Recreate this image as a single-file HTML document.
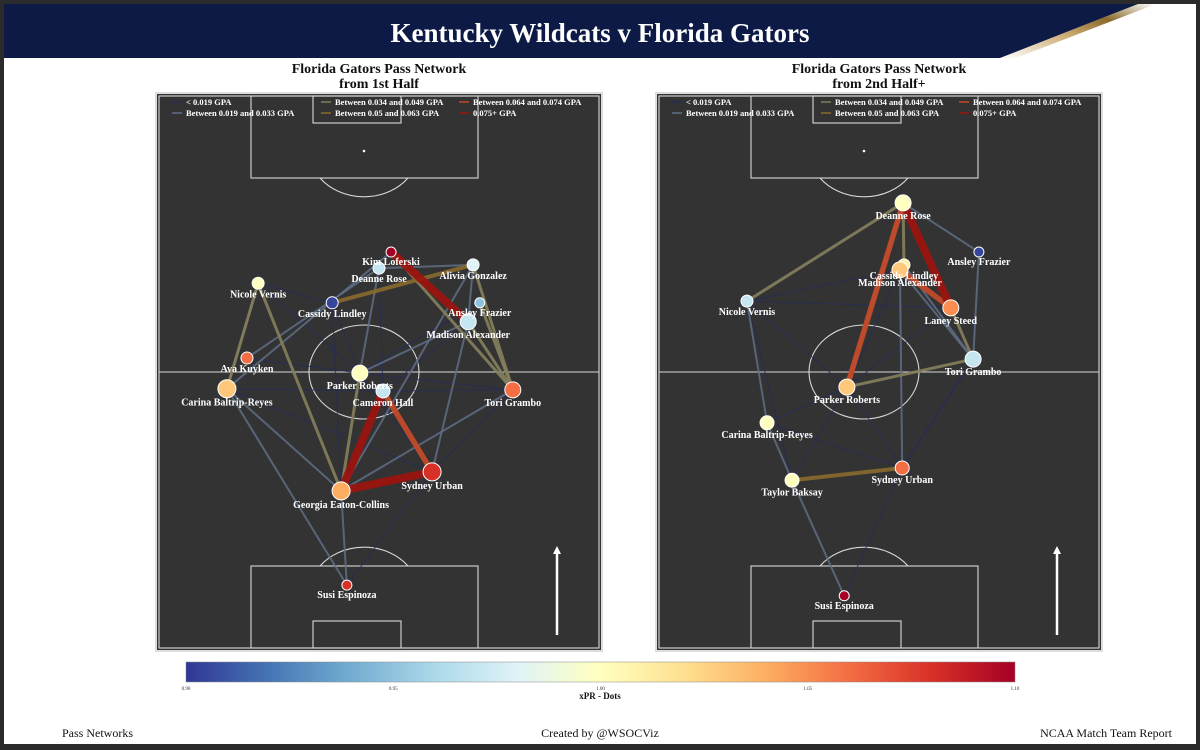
<!DOCTYPE html>
<html><head><meta charset="utf-8">
<style>
html,body{margin:0;padding:0;background:#2b2b2b;}
#page{position:relative;width:1200px;height:750px;overflow:hidden;background:#2b2b2b;font-family:"Liberation Serif",serif;}
#sheet{position:absolute;left:4px;top:4px;width:1192px;height:740px;background:#fff;}
text{font-family:"Liberation Serif",serif;}
</style></head>
<body>
<div id="page">
<div id="sheet"></div>
<svg id="svg" width="1200" height="750" style="position:absolute;left:0;top:0">
<defs>
<linearGradient id="cbar" x1="0" x2="1" y1="0" y2="0">
<stop offset="0" stop-color="#313695"/><stop offset="0.1" stop-color="#4575b4"/><stop offset="0.2" stop-color="#74add1"/><stop offset="0.3" stop-color="#abd9e9"/><stop offset="0.4" stop-color="#e0f3f8"/><stop offset="0.5" stop-color="#ffffbf"/><stop offset="0.6" stop-color="#fee090"/><stop offset="0.7" stop-color="#fdae61"/><stop offset="0.8" stop-color="#f46d43"/><stop offset="0.9" stop-color="#d73027"/><stop offset="1" stop-color="#a50026"/>
</linearGradient>
<linearGradient id="swoosh" x1="0" x2="1" y1="1" y2="0">
<stop offset="0" stop-color="#ffffff"/><stop offset="0.45" stop-color="#c9a66b"/><stop offset="0.7" stop-color="#8a6a2a"/><stop offset="1" stop-color="#ffffff"/>
</linearGradient>
</defs>
<polygon points="1000,58 1138,4 1196,4 1196,58" fill="#fff"/>
<polygon points="1000,58 1138,4 1156,4 1016,58" fill="url(#swoosh)"/>
<polygon points="4,4 1138,4 1000,58 4,58" fill="#0c1a45"/>
<text x="600" y="42" text-anchor="middle" fill="#fff" font-size="27" font-weight="bold">Kentucky Wildcats v Florida Gators</text>
<g id="pitches"></g>
<rect x="186" y="662" width="829" height="20" fill="url(#cbar)" stroke="#888" stroke-width="0.5"/>
<g id="cticks"></g>
<text x="600" y="699" text-anchor="middle" font-size="9" font-weight="bold" fill="#111">xPR - Dots</text>
<text x="62" y="737" font-size="12" fill="#111">Pass Networks</text>
<text x="600" y="737" text-anchor="middle" font-size="12" fill="#111">Created by @WSOCViz</text>
<text x="1172" y="737" text-anchor="end" font-size="12" fill="#111">NCAA Match Team Report</text>
</svg>
</div>
<script>
// colorbar ticks
const cbTicks = [0.90, 0.95, 1.00, 1.05, 1.10];
// GPA categories
const catLabels = ["< 0.019 GPA","Between 0.019 and 0.033 GPA","Between 0.034 and 0.049 GPA","Between 0.05 and 0.063 GPA","Between 0.064 and 0.074 GPA","0.075+ GPA"];
// left pitch (1st half) data: positions in % of pitch width / height from top
const p1Names = ["Kim Loferski","Deanne Rose","Alivia Gonzalez","Nicole Vernis","Cassidy Lindley","Ansley Frazier","Madison Alexander","Ava Kuyken","Carina Baltrip-Reyes","Parker Roberts","Cameron Hall","Tori Grambo","Sydney Urban","Georgia Eaton-Collins","Susi Espinoza"];
const p1X = [52.7,50.0,71.1,22.9,39.5,72.6,70.0,20.4,15.9,45.7,50.9,80.0,61.9,41.5,42.8];
const p1Y = [28.5,31.4,30.8,34.1,37.6,37.6,41.0,47.5,53.0,50.2,53.4,53.2,67.9,71.3,88.2];
const p1XPR = [1.10,0.97,0.98,1.00,0.905,0.95,0.97,1.06,1.03,1.00,0.97,1.06,1.08,1.04,1.08];
const p1Size = [5,6,6,6,6,5,8,6,9,8,7,8,9,9,5];
const p1Edges = [[13,10,5],[13,12,5],[10,12,4],[0,6,5],[4,2,3],[13,9,2],[13,3,2],[3,8,2],[2,11,2],[5,11,2],[0,11,2],[6,11,2],
 [7,1,1],[8,0,1],[8,13,1],[9,6,1],[6,12,1],[13,2,1],[11,13,1],[13,14,1],[8,14,1],[9,1,1],[3,8,1],[2,6,1],[1,2,1],
 [9,12,0],[4,9,0],[3,9,0],[8,10,0],[7,9,0],[10,11,0],[9,11,0],[12,11,0],[4,13,0],[1,10,0],[12,14,0],[8,12,0],[3,4,0],[6,10,0],[5,9,0]];
// right pitch (2nd half+) data
const p2Names = ["Deanne Rose","Ansley Frazier","Cassidy Lindley","Madison Alexander","Nicole Vernis","Laney Steed","Tori Grambo","Parker Roberts","Carina Baltrip-Reyes","Sydney Urban","Taylor Baksay","Susi Espinoza"];
const p2X = [55.4,72.4,55.6,54.7,20.4,66.1,71.1,42.8,24.9,55.2,30.5,42.2];
const p2Y = [19.7,28.5,30.8,31.7,37.3,38.5,47.7,52.7,59.1,67.2,69.4,90.1];
const p2XPR = [1.00,0.905,1.01,1.03,0.97,1.05,0.97,1.03,1.00,1.06,1.00,1.10];
const p2Size = [8,5,6,8,6,8,8,8,7,7,7,5];
const p2Edges = [[7,0,4],[0,5,5],[7,0,2],[3,5,4],[0,4,2],[0,2,2],[5,6,2],[7,6,2],[10,9,3],
 [0,1,1],[8,10,1],[4,8,1],[10,11,1],[3,9,1],[3,6,1],[2,6,1],[1,6,1],
 [4,3,0],[4,5,0],[4,7,0],[7,9,0],[8,7,0],[10,7,0],[9,11,0],[9,6,0],[8,9,0],[7,3,0],[4,10,0],[6,9,0],[5,7,0]];

const catColor = ["#252c5a","#5f6e86","#857f5c","#8a6a2e","#c24a2a","#9b1510"];
const catWidth = [1.2,2,3,4,5.5,8];
const catOpacity = [0.7,0.85,0.9,0.9,0.95,0.95];
const stops = ["#313695","#4575b4","#74add1","#abd9e9","#e0f3f8","#ffffbf","#fee090","#fdae61","#f46d43","#d73027","#a50026"];
function hex(h){return [1,3,5].map(i=>parseInt(h.substr(i,2),16));}
function cmap(v){let t=(v-0.9)/0.2;t=Math.max(0,Math.min(1,t));const f=t*10;const i=Math.min(9,Math.floor(f));const a=hex(stops[i]),b=hex(stops[i+1]);const u=f-i;return "rgb("+a.map((c,k)=>Math.round(c+(b[k]-c)*u)).join(",")+")";}
const NS="http://www.w3.org/2000/svg";
function mk(tag,attrs,parent){const e=document.createElementNS(NS,tag);for(const k in attrs)e.setAttribute(k,attrs[k]);parent.appendChild(e);return e;}

const cbX=v=>186+(v-0.9)/0.2*829;
const ct=document.getElementById('cticks');
cbTicks.forEach(v=>{const t=mk('text',{x:cbX(v),y:690,'text-anchor':'middle','font-size':5,fill:'#333'},ct);t.textContent=v.toFixed(2);

});

function drawPitch(x0,title2,names,xs,ys,xpr,sz,edges,id){
 const W=446,H=558,y0=93;
 const sx=p=>x0+p/100*W, sy=p=>y0+p/100*H;
 const g=mk('g',{},document.getElementById('pitches'));
 
 
 const tx=x0+W/2;
 const cx=x0+208;
 const t1=mk('text',{x:tx,y:73,'text-anchor':'middle','font-size':14,'font-weight':'bold',fill:'#111'},g);t1.textContent="Florida Gators Pass Network";
 
 
 const t2=mk('text',{x:tx,y:88,'text-anchor':'middle','font-size':14,'font-weight':'bold',fill:'#111'},g);t2.textContent=title2;
 
 
 const bg=mk('rect',{x:x0,y:y0,width:W,height:H,fill:'#333333',stroke:'#dddddd','stroke-width':2},g);
 
 
 const L={fill:'none',stroke:'#d8d8d8','stroke-width':1.1};
 const lines=mk('g',{},g);
 
 
 mk('rect',Object.assign({x:x0+3,y:y0+3,width:W-6,height:H-6},L),lines);
 mk('line',Object.assign({x1:x0+3,x2:x0+W-3,y1:372,y2:372},L),lines);
 mk('ellipse',Object.assign({cx:cx,cy:372,rx:55,ry:47},L),lines);
 mk('rect',Object.assign({x:x0+95,y:y0+3,width:227,height:82},L),lines);
 mk('rect',Object.assign({x:x0+157,y:y0+3,width:88,height:27},L),lines);
 mk('rect',Object.assign({x:x0+95,y:566,width:227,height:82},L),lines);
 mk('rect',Object.assign({x:x0+157,y:621,width:88,height:27},L),lines);
 mk('path',Object.assign({d:`M${cx-44},178 A55 47 0 0 0 ${cx+44},178`},L),lines);
 mk('path',Object.assign({d:`M${cx-44},566 A55 47 0 0 1 ${cx+44},566`},L),lines);
 mk('circle',{cx:cx,cy:151,r:1.3,fill:'#fff'},lines);
 // arrow
 const ar=mk('g',{},g);
 
 
 mk('line',{x1:x0+401,x2:x0+401,y1:635,y2:553,stroke:'#fff','stroke-width':2.5},ar);
 mk('polygon',{points:`${x0+397},554 ${x0+401},546 ${x0+405},554`,fill:'#fff'},ar);
 // edges
 const eg=mk('g',{},g);
 edges.slice().sort((a,b)=>a[2]-b[2]).forEach(e=>{
  const [a,b,c]=e;
  const ln=mk('line',{x1:sx(xs[a]),y1:sy(ys[a]),x2:sx(xs[b]),y2:sy(ys[b]),stroke:catColor[c],'stroke-width':catWidth[c],'stroke-opacity':catOpacity[c]},eg);
  
  
 });
 // nodes
 names.forEach((n,i)=>{
  const c=mk('circle',{cx:sx(xs[i]),cy:sy(ys[i]),r:sz[i],fill:cmap(xpr[i]),stroke:'#fff','stroke-width':1},g);
  
  
 });
 names.forEach((n,i)=>{
  const t=mk('text',{x:sx(xs[i]),y:sy(ys[i])+sz[i]+8,'text-anchor':'middle','font-size':10,'font-weight':'bold',fill:'#fff'},g);
  t.textContent=n;
  
  
 });
 // legend
 const lg=mk('g',{},g);
 
 
 const lx=[x0+16,x0+165,x0+303];
 const order=[0,2,4,1,3,5];
 order.forEach((cat,i)=>{
  const xx=lx[i%3], yy=i<3?102:113;
  mk('line',{x1:xx,x2:xx+10,y1:yy,y2:yy,stroke:catColor[cat],'stroke-width':1.5},lg);
  const t=mk('text',{x:xx+14,y:yy+3,'font-size':8.5,'font-weight':'bold',fill:'#fff'},lg);
  t.textContent=catLabels[cat];
  
  
 });
}
drawPitch(156,"from 1st Half",p1Names,p1X,p1Y,p1XPR,p1Size,p1Edges,'pitch-1st-half');
drawPitch(656,"from 2nd Half+",p2Names,p2X,p2Y,p2XPR,p2Size,p2Edges,'pitch-2nd-half');
</script>
</body></html>
